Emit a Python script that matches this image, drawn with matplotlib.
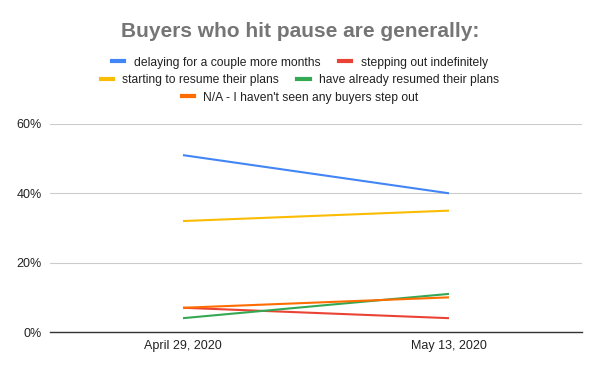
import matplotlib.pyplot as plt
from matplotlib.lines import Line2D
from matplotlib.ticker import PercentFormatter

plt.rcParams['font.family'] = ['Liberation Sans', 'DejaVu Sans']

# data
dates = ['April 29, 2020', 'May 13, 2020']
delaying = [51, 40]
stepping_out = [7, 4]
resuming = [32, 35]
already_resumed = [4, 11]
not_seen = [7, 10]

series = [
    ('delaying for a couple more months', delaying, '#4285F4'),
    ('stepping out indefinitely', stepping_out, '#EA4335'),
    ('starting to resume their plans', resuming, '#FBBC04'),
    ('have already resumed their plans', already_resumed, '#34A853'),
    ("N/A - I haven't seen any buyers step out", not_seen, '#FF6D01'),
]

fig = plt.figure(figsize=(6, 3.71), dpi=100)
ax = fig.add_axes([0.0833, 0.105, 0.8867, 0.561])

x = list(range(len(dates)))
handles = []
for label, vals, color in series:
    ax.plot(x, [v / 100 for v in vals], color=color, linewidth=1.5, solid_capstyle='butt')
    handles.append(Line2D([], [], color=color, linewidth=3, label=label))

ax.set_xlim(-0.5, 1.5)
ax.set_ylim(0, 0.6)
ax.set_yticks([0, 0.2, 0.4, 0.6])
ax.yaxis.set_major_formatter(PercentFormatter(1.0, decimals=0))
ax.set_xticks(x)
ax.set_xticklabels(dates)
ax.tick_params(length=0, labelsize=9, colors='#222222', pad=6)
ax.grid(axis='y', color='#cccccc', linewidth=0.8)
ax.set_axisbelow(True)
for s in ['top', 'right', 'left']:
    ax.spines[s].set_visible(False)
ax.spines['bottom'].set_color('#333333')
ax.spines['bottom'].set_linewidth(1.0)

fig.text(0.5, 0.915, 'Buyers who hit pause are generally:', ha='center', va='center',
         fontsize=15, fontweight='bold', color='#757575')

# legend rows, each centered like the original
rows = [(handles[0:2], 0.831), (handles[2:4], 0.785), (handles[4:5], 0.737)]
for hs, y in rows:
    leg = fig.legend(handles=hs, loc='center', bbox_to_anchor=(0.5, y), ncol=len(hs),
                     frameon=False, fontsize=8.7, handlelength=1.0, handletextpad=0.8,
                     columnspacing=1.5, borderpad=0, labelcolor='#222222')

fig.savefig('out.png', dpi=100)
